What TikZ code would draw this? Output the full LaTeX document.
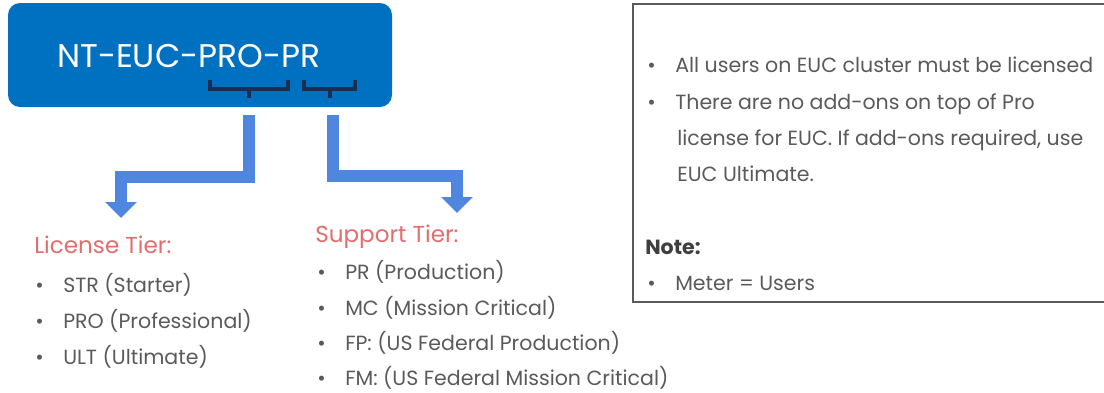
\documentclass[tikz,border=0pt]{standalone}
\usepackage{fontspec}
\setmainfont{Poppins}
\usetikzlibrary{arrows.meta}

\definecolor{titleblue}{HTML}{0070C0}
\definecolor{arrowblue}{HTML}{4F86E0}
\definecolor{bracenavy}{HTML}{1A2E52}
\definecolor{tiersalmon}{HTML}{E26D6D}
\definecolor{itemgray}{HTML}{5A5A5A}
\definecolor{notegray}{HTML}{3F3F3F}

\tikzset{
  tierarrow/.style={draw=arrowblue, line width=9pt,
    -{Triangle[width=23pt,length=12pt]}},
  skubrace/.style={draw=bracenavy, line width=2.6pt},
  tierhead/.style={anchor=base west, inner sep=0pt, text=tiersalmon,
    font=\fontsize{17.3}{20}\selectfont},
  tieritem/.style={anchor=base west, inner sep=0pt, text=itemgray,
    font=\fontsize{15.4}{18}\selectfont},
}
\newcommand{\bul}[1]{\makebox[21pt][l]{\textbullet}#1}

\begin{document}
\begin{tikzpicture}[x=0.75pt,y=-0.75pt]
      \useasboundingbox (0,0) rectangle (1104,393);

      % product code
      \fill[titleblue, rounded corners=9pt] (8,3) rectangle (392,107);
      \node (title) [anchor=base west, inner sep=0pt, text=white,
        font=\fontsize{24.6}{29}\selectfont] at (57,67) {NT-EUC-PRO-PR};

      \draw[skubrace] (210,80) -- (210,89) -- (288,89) -- (288,80);
      \draw[skubrace] (249,89) -- (249,98);
      \draw[skubrace] (304,80) -- (304,89) -- (355,89) -- (355,80);
      \draw[skubrace] (330,89) -- (330,98);

      % arrows
      \coordinate (licstart) at (249,115);
      \coordinate (licbend)  at (249,177);
      \coordinate (lictip)   at (121,218);
      \coordinate (supstart) at (333,115);
      \coordinate (supbend)  at (333,176);
      \coordinate (suptip)   at (457,213);
      \draw[tierarrow] (licstart) -- (licbend) -| (lictip);
      \draw[tierarrow] (supstart) -- (supbend) -| (suptip);

      % license tier
      \node (lic)  [tierhead] at (34,253) {License Tier:};
      \node (lic1) [tieritem] at (35,292) {\bul{STR (Starter)}};
      \node (lic2) [tieritem] at (35,328) {\bul{PRO (Professional)}};
      \node (lic3) [tieritem] at (35,364) {\bul{ULT (Ultimate)}};

      % support tier
      \node (sup)  [tierhead] at (315,242) {Support Tier:};
      \node (sup1) [tieritem] at (317,279) {\bul{PR (Production)}};
      \node (sup2) [tieritem] at (317,315) {\bul{MC (Mission Critical)}};
      \node (sup3) [tieritem] at (317,350) {\bul{FP: (US Federal Production)}};
      \node (sup4) [tieritem] at (317,385) {\bul{FM: (US Federal Mission Critical)}};

      % notes box
      \draw[draw=itemgray, line width=1.5pt] (633,4) rectangle (1112,302);
      \node (rule1) [tieritem] at (647,72)  {\bul{All users on EUC cluster must be licensed}};
      \node (rule2) [tieritem] at (647,109) {\bul{There are no add-ons on top of Pro}};
      \node (rule3) [tieritem] at (677,145) {license for EUC. If add-ons required, use};
      \node (rule4) [tieritem] at (677,181) {EUC Ultimate.};
      \node (note)  [tieritem, text=notegray, font=\fontsize{15.4}{18}\selectfont\bfseries]
        at (645,254) {Note:};
      \node (note1) [tieritem] at (647,290) {\bul{Meter = Users}};
    \end{tikzpicture}
\end{document}
